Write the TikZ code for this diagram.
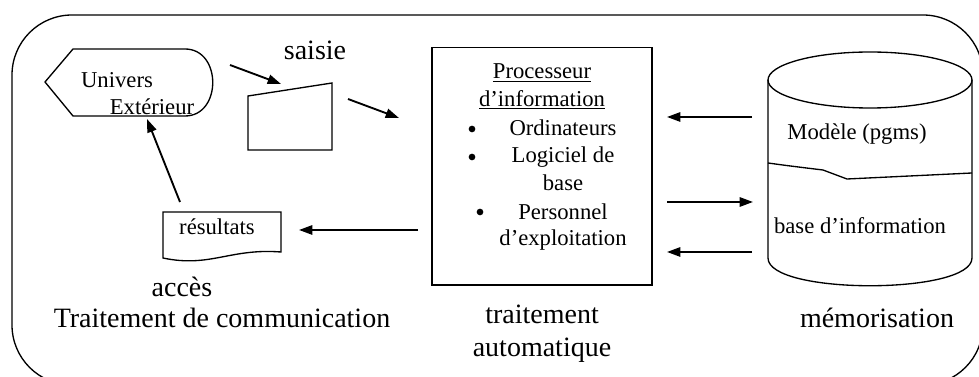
\documentclass[tikz,border=0pt]{standalone}
\usepackage{fontspec}
\setmainfont{Liberation Serif}
\usetikzlibrary{arrows.meta}

\begin{document}
\begin{tikzpicture}[x=0.75pt, y=-0.75pt,
        outline/.style={draw, line width=1pt},
        flow/.style={-{Triangle[length=10pt,width=7pt]}, line width=1.4pt},
        smalltext/.style={font=\fontsize{17}{20}\selectfont, inner sep=0pt},
        bigtext/.style={font=\fontsize{21}{21}\selectfont, inner sep=0pt, align=center},
        dot/.style={circle, fill, inner sep=0pt, minimum size=5pt}
    ]
    \useasboundingbox (0,0) rectangle (979,377);

    % Outer frame
    \begin{scope}
        \clip (0,0) rectangle (979,377);
        \draw[outline, rounded corners=45pt] (12,15) rectangle (983,385);
    \end{scope}

    % Univers exterieur
    \draw[outline] (45,82) -- (73,49) -- (185,49)
        .. controls (222,49) and (222,116) .. (185,116) -- (73,116) -- cycle;
    \node[smalltext] (univ1) at (117,80) {Univers};
    \node[smalltext] (univ2) at (152,107) {Extérieur};

    % Saisie
    \draw[outline] (248,96) -- (332,83) -- (332,150) -- (248,150) -- cycle;
    \node[bigtext] (saisie) at (315,50) {saisie};

    % Processeur d'information
    \node[outline, minimum width=165pt, minimum height=178pt] (proc) at (542,166.5) {};
    \node[smalltext] (p1) at (542,73) {\underline{Processeur}};
    \node[smalltext] (p2) at (542,100) {\underline{d’information}};
    \node[dot] (b1) at (472,129) {};
    \node[smalltext] (p3) at (563,128) {Ordinateurs};
    \node[dot] (b2) at (472,157) {};
    \node[smalltext] (p4) at (563,157) {Logiciel de};
    \node[smalltext] (p5) at (563,183) {base};
    \node[dot] (b3) at (480,212) {};
    \node[smalltext] (p6) at (563,212) {Personnel};
    \node[smalltext] (p7) at (563,240) {d’exploitation};
    \node[bigtext] (trait) at (542,334) {traitement\\[4pt]automatique};

    % Memorisation
    \draw[outline] (870,80) ellipse [x radius=102, y radius=28];
    \draw[outline] (768,80) -- (768,258)
        .. controls (768,295) and (972,295) .. (972,258) -- (972,80);
    \draw[outline] (768,163) .. controls (790,166) .. (823,170)
        -- (847,179) -- (972,173);
    \node[smalltext] (modele) at (857,134) {Modèle (pgms)};
    \node[smalltext] (base) at (860,226) {base d’information};
    \node[bigtext] (memo) at (877,318) {mémorisation};

    % Resultats
    \draw[outline] (163,212) -- (281,212) -- (281,252)
        .. controls (230,248) and (210,268) .. (163,258) -- cycle;
    \node[smalltext] (res) at (217,227) {résultats};
    \node[bigtext] (acces) at (182,287) {accès};
    \node[bigtext] (comm) at (222,318) {Traitement de communication};

    % Connector ends
    \coordinate (s1) at (230,65);
    \coordinate (s2) at (281,84);
    \coordinate (s3) at (348,99);
    \coordinate (s4) at (399,118);
    \coordinate (m1) at (752,117);
    \coordinate (m2) at (667,117);
    \coordinate (m3) at (667,202);
    \coordinate (m4) at (753,202);
    \coordinate (m5) at (752,252);
    \coordinate (m6) at (667,252);
    \coordinate (r1) at (418,230);
    \coordinate (r2) at (299,230);
    \coordinate (u1) at (180,202);
    \coordinate (u2) at (147,119);

    % Arrows
    \draw[flow] (s1) -- (s2);
    \draw[flow] (s3) -- (s4);
    \draw[flow] (m1) -- (m2);
    \draw[flow] (m3) -- (m4);
    \draw[flow] (m5) -- (m6);
    \draw[flow] (r1) -- (r2);
    \draw[flow] (u1) -- (u2);
\end{tikzpicture}
\end{document}
